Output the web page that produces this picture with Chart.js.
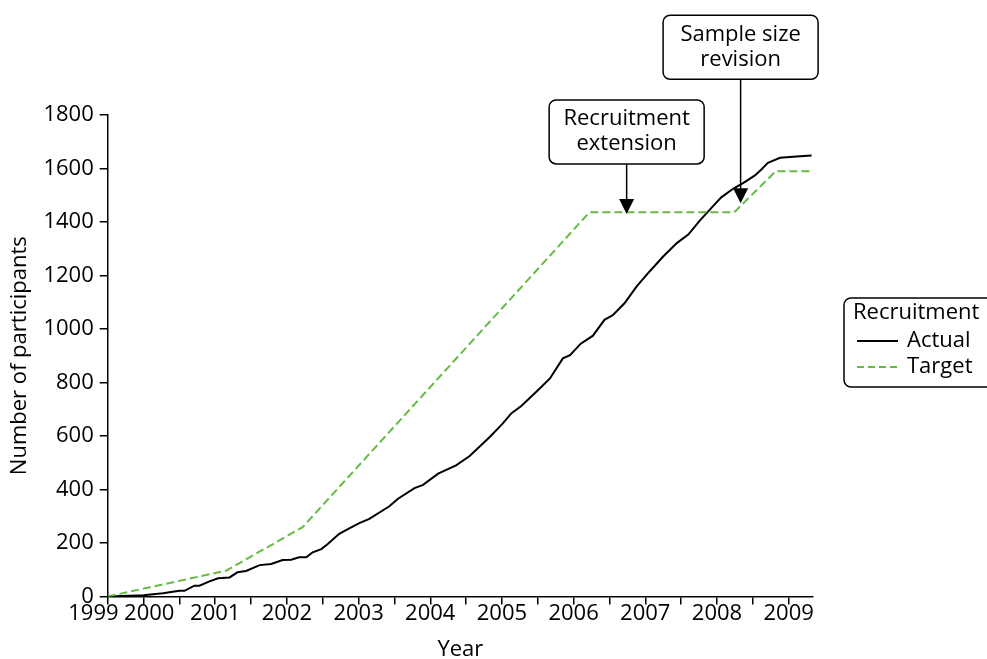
<!DOCTYPE html>
<html>
<head>
<meta charset="utf-8">
<script src="https://cdn.jsdelivr.net/npm/chart.js@4/dist/chart.umd.min.js"></script>
<style>
  html, body { margin: 0; padding: 0; background: #fff; }
  #wrap { width: 987px; height: 659px; }
</style>
</head>
<body>
<div id="wrap"><canvas id="recruitChart"></canvas></div>
<script>
// Recruitment data (year as decimal, cumulative participants)
const actualYears = [1999.5, 2000.0, 2000.27, 2000.5, 2000.57, 2000.71, 2000.78, 2000.92, 2001.04, 2001.2, 2001.31, 2001.43,
    2001.62, 2001.78, 2001.94, 2002.06, 2002.17, 2002.27, 2002.36, 2002.48, 2002.57, 2002.73, 2002.87, 2003.01,
    2003.15, 2003.43, 2003.55, 2003.78, 2003.9, 2004.11, 2004.36, 2004.55, 2004.83, 2005.01, 2005.13, 2005.27,
    2005.48, 2005.67, 2005.85, 2005.95, 2006.1, 2006.27, 2006.43, 2006.55, 2006.71, 2006.88, 2007.06, 2007.25,
    2007.44, 2007.6, 2007.76, 2007.92, 2008.06, 2008.23, 2008.37, 2008.53, 2008.62, 2008.71, 2008.88, 2009.11, 2009.32];
const actualCounts = [0, 4, 12, 21, 21, 40, 40, 56, 68, 71, 90, 95,
    117, 121, 136, 137, 146, 146, 165, 177, 196, 234, 254, 274,
    290, 337, 365, 405, 417, 459, 490, 525, 596, 646, 684, 712,
    765, 815, 890, 902, 945, 975, 1034, 1052, 1096, 1159, 1215, 1271,
    1321, 1353, 1405, 1452, 1492, 1525, 1546, 1574, 1596, 1621, 1640, 1645, 1649];

const targetYears = [1999.5, 2001.15, 2002.22, 2006.22, 2008.24, 2008.82, 2009.32];
const targetCounts = [0, 96, 259, 1436, 1436, 1590, 1590];

const yearLabels = ["1999", "2000", "2001", "2002", "2003", "2004", "2005", "2006", "2007", "2008", "2009"];

// Annotations: arrow tip position (year, participants)
const noteTexts = [["Recruitment", "extension"], ["Sample size", "revision"]];
const noteYears = [2006.74, 2008.33];
const noteValues = [1430, 1470];

const FONT = "'Open Sans', 'Noto Sans', sans-serif";
const FS = 22;
const GREEN = "#66bb44";

function toPoints(xs, ys) {
    return xs.map((x, i) => ({ x: x, y: ys[i] }));
}

const overlayPlugin = {
    id: "overlay",
    afterDraw(chart) {
        const ctx = chart.ctx;
        const xs = chart.scales.x, ys = chart.scales.y;
        const area = chart.chartArea;
        ctx.save();
        ctx.font = FS + "px " + FONT;
        ctx.fillStyle = "#000";
        ctx.strokeStyle = "#000";
        ctx.lineWidth = 1.5;
        ctx.textAlign = "center";
        ctx.textBaseline = "middle";

        // annotation boxes and arrows
        const arrowLen = [50, 124];
        noteTexts.forEach((lines, i) => {
            const tx = xs.getPixelForValue(noteYears[i]);
            const ty = ys.getPixelForValue(noteValues[i]);
            const boxBottom = ty - arrowLen[i];
            const boxW = 155, boxH = 64;
            ctx.beginPath();
            ctx.roundRect(tx - boxW / 2, boxBottom - boxH, boxW, boxH, 7);
            ctx.stroke();
            ctx.fillText(lines[0], tx, boxBottom - boxH + 19);
            ctx.fillText(lines[1], tx, boxBottom - boxH + 44);
            ctx.beginPath();
            ctx.moveTo(tx, boxBottom);
            ctx.lineTo(tx, ty - 14);
            ctx.stroke();
            ctx.beginPath();
            ctx.moveTo(tx - 7.5, ty - 15);
            ctx.lineTo(tx + 7.5, ty - 15);
            ctx.lineTo(tx, ty);
            ctx.closePath();
            ctx.fill();
        });

        // legend
        const lx = area.right + 31, ly = 298;
        ctx.beginPath();
        ctx.roundRect(lx, ly, 160, 89, 7);
        ctx.stroke();
        ctx.textAlign = "left";
        ctx.fillText("Recruitment", lx + 9, ly + 15);
        const names = ["Actual", "Target"];
        names.forEach((n, i) => {
            const y = ly + 43 + i * 26;
            ctx.beginPath();
            ctx.strokeStyle = i === 0 ? "#000" : GREEN;
            ctx.lineWidth = 2;
            ctx.setLineDash(i === 0 ? [] : [7, 4]);
            ctx.moveTo(lx + 13, y);
            ctx.lineTo(lx + 54, y);
            ctx.stroke();
            ctx.setLineDash([]);
            ctx.fillText(n, lx + 63, y);
        });
        ctx.restore();
    }
};

new Chart(document.getElementById("recruitChart"), {
    type: "line",
    data: {
        datasets: [{
            label: "Target",
            data: toPoints(targetYears, targetCounts),
            borderColor: GREEN,
            borderWidth: 2,
            borderDash: [8, 4],
            pointRadius: 0,
            tension: 0
        }, {
            label: "Actual",
            data: toPoints(actualYears, actualCounts),
            borderColor: "#000",
            borderWidth: 2,
            pointRadius: 0,
            tension: 0
        }]
    },
    options: {
        responsive: true,
        maintainAspectRatio: false,
        animation: false,
        layout: { padding: { top: 115, right: 174, left: 7, bottom: 0 } },
        plugins: { legend: { display: false }, tooltip: { enabled: false } },
        scales: {
            x: {
                type: "linear",
                min: 1999.5,
                max: 2009.34,
                border: { color: "#000", width: 1.5 },
                grid: { drawOnChartArea: false, color: "#000", tickLength: 8, lineWidth: 1.5 },
                ticks: {
                    stepSize: 0.5,
                    autoSkip: false,
                    maxRotation: 0,
                    includeBounds: false,
                    color: "#000",
                    padding: -2,
                    font: { size: FS, family: FONT, lineHeight: 1 },
                    callback: function (v) {
                        if (v === 1999.5) return yearLabels[0] + "     ";
                        if (Number.isInteger(v)) {
                            const s = yearLabels[v - 1999];
                            return v === 2000 ? "  " + s : s;
                        }
                        return "";
                    }
                },
                title: { display: true, text: "Year", color: "#000", font: { size: FS, family: FONT, lineHeight: 0.8 }, padding: { top: 19, bottom: 0 } }
            },
            y: {
                min: 0,
                max: 1800,
                border: { color: "#000", width: 1.5 },
                grid: { drawOnChartArea: false, color: "#000", tickLength: 8, lineWidth: 1.5 },
                ticks: {
                    stepSize: 200, color: "#000", padding: 6, font: { size: FS, family: FONT },
                    callback: function (v) { return String(v); }
                },
                title: { display: true, text: "Number of participants", color: "#000", font: { size: FS, family: FONT }, padding: { top: 0, bottom: 4 } }
            }
        }
    },
    plugins: [overlayPlugin]
});
</script>
</body>
</html>
